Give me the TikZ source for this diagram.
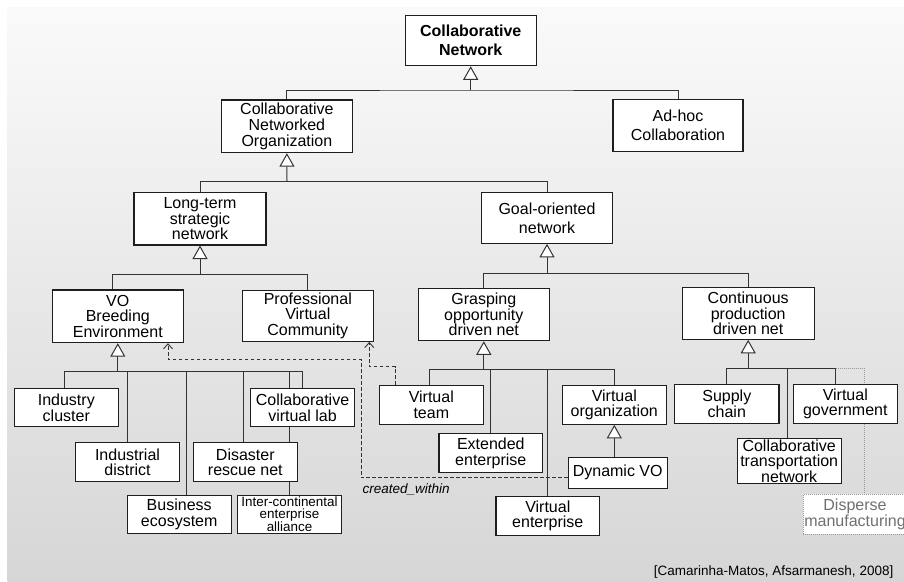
\documentclass[tikz,border=0pt]{standalone}
\usepackage{fontspec}
\setmainfont{Liberation Sans}
\usetikzlibrary{arrows.meta,calc}
\pgfdeclarelayer{bglayer}
\pgfdeclarelayer{linelayer}
\pgfsetlayers{bglayer,linelayer,main}
\definecolor{bgtop}{HTML}{FAFAFA}
\definecolor{bgbot}{HTML}{D6D6D6}
\definecolor{boxline}{HTML}{1E1E1E}
\definecolor{conline}{HTML}{333333}
\definecolor{dotgray}{HTML}{9A9A9A}
\definecolor{dmtext}{HTML}{707070}
\tikzset{
  box/.style={draw=boxline, fill=white, line width=1.1pt, inner sep=0pt, align=center, text=black},
  fthree/.style={font=\fontsize{16}{15.6}\selectfont},
  ftwo/.style={font=\fontsize{16}{15.6}\selectfont},
  fbig/.style={font=\fontsize{16}{19}\selectfont},
  conn/.style={draw=conline, line width=1pt},
  gen/.style={conn, -{Triangle[fill=white, length=13.5pt, width=15pt]}},
  dep/.style={draw=conline, line width=0.9pt, dash pattern=on 3.5pt off 2.5pt, -{Straight Barb[length=5pt, width=9pt]}},
  dotl/.style={draw=dotgray, line width=0.9pt, dash pattern=on 1pt off 1pt},
  dmbox/.style={draw=dotgray, dash pattern=on 1pt off 1pt, fill=white, line width=1pt, inner sep=0pt, align=center, text=dmtext},
  lbl/.style={inner sep=0pt, text=black}
}
\begin{document}
\begin{tikzpicture}[x=1pt,y=-1pt]
\useasboundingbox (0,0) rectangle (904,581);
\begin{pgfonlayer}{bglayer}
\fill[white] (0,0) rectangle (904,581);
\shade[top color=bgtop, bottom color=bgbot] (7.5,7) rectangle (904,581);
\end{pgfonlayer}

% level 0-1
\node[box, font=\bfseries\fontsize{16}{19}\selectfont, minimum width=131pt, minimum height=50pt] (cn) at (470.7,40.7) {Collaborative\\Network};
\node[box, fthree, minimum width=131pt, minimum height=52.7pt] (cno) at (286.9,126.3) {Collaborative\\Networked\\Organization};
\node[box, fbig, minimum width=130pt, minimum height=52pt] (adhoc) at (678,125.5) {Ad-hoc\\Collaboration};
% level 2
\node[box, fthree, minimum width=132pt, minimum height=52.3pt] (ltsn) at (200,218.8) {Long-term\\strategic\\network};
\node[box, fbig, minimum width=131.4pt, minimum height=50.6pt] (gon) at (547,218) {Goal-oriented\\network};
% level 3
\node[box, fthree, minimum width=131pt, minimum height=52.7pt] (vobe) at (117.8,316.3) {VO\\Breeding\\Environment};
\node[box, fthree, minimum width=131pt, minimum height=51.3pt] (pvc) at (307.8,315.7) {Professional\\Virtual\\Community};
\node[box, fthree, minimum width=131pt, minimum height=52.4pt] (god) at (483.8,314.5) {Grasping\\opportunity\\driven net};
\node[box, fthree, minimum width=131.7pt, minimum height=51.6pt] (cpd) at (748.2,313.5) {Continuous\\production\\driven net};
% VBE children
\node[box, ftwo, minimum width=104pt, minimum height=38.4pt] (ic) at (66.3,407.5) {Industry\\cluster};
\node[box, ftwo, minimum width=103.6pt, minimum height=38.4pt] (cvl) at (302.5,407.5) {Collaborative\\virtual lab};
\node[box, ftwo, minimum width=103.6pt, minimum height=39pt] (id) at (127.5,462.2) {Industrial\\district};
\node[box, ftwo, minimum width=104pt, minimum height=39pt] (drn) at (245.3,462.2) {Disaster\\rescue net};
\node[box, ftwo, minimum width=103.7pt, minimum height=38.3pt] (be) at (179.2,514.2) {Business\\ecosystem};
\node[box, font=\fontsize{13.4}{12.3}\selectfont, minimum width=104.4pt, minimum height=38.3pt] (ica) at (289.5,514.2) {Inter-continental\\enterprise\\alliance};
% Grasping children
\node[box, ftwo, minimum width=104pt, minimum height=39pt] (vt) at (431.3,404.8) {Virtual\\team};
\node[box, ftwo, minimum width=103.7pt, minimum height=39pt] (ee) at (490.8,453.2) {Extended\\enterprise};
\node[box, ftwo, minimum width=103.7pt, minimum height=39.3pt] (ve) at (547.8,515.7) {Virtual\\enterprise};
\node[box, ftwo, minimum width=104pt, minimum height=38.6pt] (vo) at (614.3,405) {Virtual\\organization};
\node[box, ftwo, minimum width=98.7pt, minimum height=31pt] (dvo) at (617.7,472.8) {Dynamic VO};
% Continuous children
\node[box, ftwo, minimum width=104.3pt, minimum height=39pt] (sc) at (726.8,403.8) {Supply\\chain};
\node[box, ftwo, minimum width=104pt, minimum height=39pt] (vg) at (845.3,403.8) {Virtual\\government};
\node[box, font=\fontsize{16}{14.3}\selectfont, minimum width=103.7pt, minimum height=45pt] (ctn) at (789.2,461.2) {Collaborative\\transportation\\network};
\node[dmbox, font=\fontsize{16}{15.6}\selectfont, minimum width=104pt, minimum height=39.7pt] (dm) at (855,514.2) {Disperse\\manufacturing};

% labels
\node[lbl, anchor=west, font=\itshape\fontsize{13.5}{15}\selectfont] (cw) at (362.5,489.3) {created\_within};
\node[lbl, anchor=east, font=\fontsize{13.5}{15}\selectfont] (cite) at (893.5,571.7) {[Camarinha-Matos, Afsarmanesh, 2008]};

\begin{pgfonlayer}{linelayer}
% CN
\coordinate (b1) at (470.7,90);
\draw[conn] (cno.north) |- (b1) -| (adhoc.north);
\draw[gen] (b1) -- (cn.south);
% CNO
\coordinate (b2) at (287,181.7);
\draw[conn] (ltsn.north) |- (b2) -| (gon.north);
\draw[gen] (b2) -- (cno.south);
% LTSN
\coordinate (b3) at (200,274.3);
\draw[conn] ($(vobe.north)+(-5.5,0)$) |- (b3) -| (pvc.north);
\draw[gen] (b3) -- (ltsn.south);
% GON
\coordinate (b4) at (547,273.3);
\draw[conn] (god.north) |- (b4) -| (cpd.north);
\draw[gen] (b4) -- (gon.south);
% VBE
\coordinate (b5) at (117.8,371.7);
\draw[conn] ($(ic.north)+(-2,0)$) |- (b5) -| (cvl.north);
\draw[conn] (id.north) |- (b5);
\draw[conn] ($(be.north)+(7.5,0)$) |- (b5);
\draw[conn] ($(drn.north)+(-2,0)$) |- (b5);
\draw[conn] (ica.north) |- (b5);
\draw[gen] (b5) -- (vobe.south);
% Grasping
\coordinate (b6) at (483.8,369.3);
\draw[conn] ($(vt.north)+(-2,0)$) |- (b6) -| (vo.north);
\draw[conn] (ee.north) |- (b6);
\draw[conn] (ve.north) |- (b6);
\draw[gen] (b6) -- (god.south);
\draw[gen] (dvo.north -| vo.south) -- (vo.south);
% Continuous
\coordinate (b7) at (748.2,368.3);
\coordinate (vgd) at ($(vg.north)+(-9.6,0)$);
\draw[conn] (sc.north) |- (b7) -| (vgd);
\draw[conn] ($(ctn.north)+(-1.5,0)$) |- (b7);
\draw[gen] (b7) -- (cpd.south);
\draw[dotl] (vgd |- b7) -| ($(dm.north)+(9,0)$);
% dependencies
\coordinate (d1) at (361,359.3);
\draw[dep] ($(dvo.west)+(0,4.9)$) -| (d1) -| ($(vobe.south)+(50.2,0)$);
\coordinate (d2) at (380,366.7);
\draw[dep] ($(vt.north)+(-36,0)$) |- (d2) -| ($(pvc.south)+(61.5,0)$);
\end{pgfonlayer}
\end{tikzpicture}
\end{document}
